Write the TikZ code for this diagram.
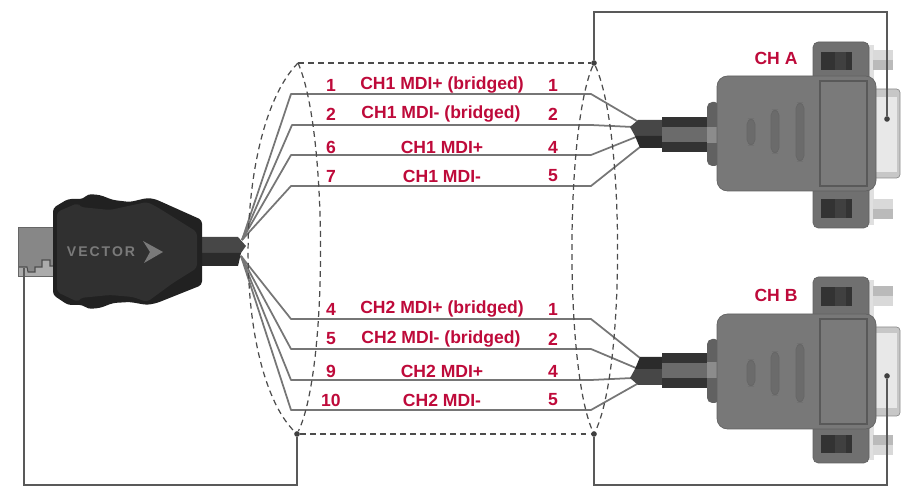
\documentclass[tikz,border=0pt]{standalone}
\usepackage{fontspec}
\setmainfont{Liberation Sans}
\usetikzlibrary{calc}

\definecolor{labelred}{HTML}{BE0A3A}
\definecolor{wiregray}{HTML}{767676}

\tikzset{
    wire/.style = {wiregray, line width = 1pt, line join = round},
    shield/.style = {black!70, line width = 0.7pt, dash pattern = on 3.3pt off 2.4pt},
    ground/.style = {black!65, line width = 1pt},
    dot/.style = {circle, fill = black!75, inner sep = 0pt, minimum size = 3.2pt},
    pin/.style = {labelred, font = \bfseries\fontsize{10}{12}\selectfont, inner sep = 0pt},
    dsub/.pic = {
        % screws and shell behind the housing
        \fill[black!12] (869,45) rectangle (874,225);
        \fill[black!15] (873,50) rectangle (893,60);
        \fill[black!27] (873,60) rectangle (893,70);
        \fill[black!15] (873,199) rectangle (893,209);
        \fill[black!27] (873,209) rectangle (893,219);
        \draw[black!45, fill = black!22, rounded corners = 2] (870,89) rectangle (900,178);
        \fill[black!9] (876,97) rectangle (897,172);
        % cable
        \fill[black!72] (630,127) -- (638,120) -- (662,120) -- (662,136) -- (635,136) -- cycle;
        \fill[black!83] (635,136) -- (662,136) -- (662,148) -- (640,148) -- cycle;
        \fill[black!80] (662,117) rectangle (710,152);
        \fill[black!58] (662,127) rectangle (710,142);
        \fill[black!62, rounded corners = 3] (707,102) rectangle (720,166);
        \fill[black!45] (707,127) rectangle (717,143);
        % flange with its two windows
        \draw[black!62, fill = black!56, rounded corners = 3] (813,42) rectangle (869,228);
        \fill[black!80] (821,52) rectangle (852,70);
        \fill[black!75] (835,52) rectangle (846,70);
        \fill[black!80] (821,199) rectangle (852,218);
        \fill[black!75] (835,199) rectangle (846,218);
        % housing
        \draw[black!62, fill = black!53, rounded corners = 6] (717,76) rectangle (876,191);
        \draw[black!65, fill = black!52, line width = 0.6pt] (820,81) rectangle (867,186);
        \draw[black!60, fill = black!58, rounded corners = 3] (747,119) rectangle (755,145);
        \draw[black!60, fill = black!58, rounded corners = 3] (771,110) rectangle (779,153);
        \draw[black!60, fill = black!58, rounded corners = 3] (796,103) rectangle (804,161);
    }
}

\begin{document}
\begin{tikzpicture}[x = 0.02cm, y = -0.02cm]
            \useasboundingbox (0,0) rectangle (914,496);

            % connection points
            \coordinate (vup) at (242,240);
            \coordinate (vlow) at (241,256);
            \coordinate (la1) at (291,94);
            \coordinate (la2) at (292,125);
            \coordinate (la3) at (291,155);
            \coordinate (la4) at (291,186);
            \coordinate (lb1) at (291,319);
            \coordinate (lb2) at (291,349);
            \coordinate (lb3) at (291,380);
            \coordinate (lb4) at (291,410);
            \coordinate (ra1) at (591,94);
            \coordinate (ra2) at (591,125);
            \coordinate (ra3) at (591,155);
            \coordinate (ra4) at (591,186);
            \coordinate (rb1) at (591,319);
            \coordinate (rb2) at (591,349);
            \coordinate (rb3) at (591,380);
            \coordinate (rb4) at (591,410);
            \coordinate (ea1) at (637,121);
            \coordinate (ea2) at (633,127);
            \coordinate (ea3) at (636,137);
            \coordinate (ea4) at (640,147);
            \coordinate (eb1) at (640,358);
            \coordinate (eb2) at (636,368);
            \coordinate (eb3) at (633,378);
            \coordinate (eb4) at (637,384);

            % wires
            \draw[wire] (vup) -- (la1) -- (ra1) -- (ea1);
            \draw[wire] (vup) -- (la2) -- (ra2) -- (ea2);
            \draw[wire] (vup) -- (la3) -- (ra3) -- (ea3);
            \draw[wire] (vup) -- (la4) -- (ra4) -- (ea4);
            \draw[wire] (vlow) -- (lb1) -- (rb1) -- (eb1);
            \draw[wire] (vlow) -- (lb2) -- (rb2) -- (eb2);
            \draw[wire] (vlow) -- (lb3) -- (rb3) -- (eb3);
            \draw[wire] (vlow) -- (lb4) -- (rb4) -- (eb4);

            % shield
            \coordinate (shtl) at (298,63);
            \node[dot] (shtr) at (594,63) {};
            \node[dot] (shbl) at (297,434) {};
            \node[dot] (shbr) at (594,434) {};
            \draw[shield] (shtl) -- (shtr);
            \draw[shield] (shbl) -- (shbr);
            \draw[shield] (shtl) .. controls (232,130) and (232,370) .. (shbl);
            \draw[shield] (shtl) .. controls (328,130) and (328,370) .. (shbl);
            \draw[shield] (shtr) .. controls (565,130) and (565,370) .. (shbr);
            \draw[shield] (shtr) .. controls (625,130) and (625,370) .. (shbr);

            % plug on the left
            \fill[black!47] (18,227) rectangle (53,276);
            \fill[black!33] (18,267) -- (27,267) -- (28,272) -- (35,272) -- (35,267) -- (42,267) -- (42,260) -- (50,260) -- (50,266) -- (53,266) -- (53,276) -- (18,276) -- cycle;
            \draw[black!70, line width = 0.6pt] (18,267) -- (27,267) -- (28,272) -- (35,272) -- (35,267) -- (42,267) -- (42,260) -- (50,260) -- (50,266) -- (53,266);
            \draw[black!60, line width = 0.4pt] (53,227) -- (18,227) -- (18,276) -- (53,276);
            \fill[black!72] (202,237) -- (238,237) -- (246,246) -- (241,253) -- (202,253) -- cycle;
            \fill[black!83] (202,253) -- (241,253) -- (238,266) -- (202,266) -- cycle;
            \fill[black!87, rounded corners = 2] (53,208) -- (68,199) -- (83,199) -- (88,194) -- (100,195) -- (113,200) -- (130,202) -- (147,198) -- (155,199) -- (202,220) -- (202,285) -- (157,303) -- (147,305) -- (130,302) -- (113,303) -- (100,308) -- (88,309) -- (83,305) -- (68,305) -- (53,295) -- cycle;
            \fill[black!81, rounded corners = 2] (57,212) -- (78,203) -- (80,207) -- (110,210) -- (133,205) -- (147,202) -- (157,207) -- (197,232) -- (197,268) -- (173,283) -- (147,302) -- (133,297) -- (110,295) -- (80,298) -- (78,302) -- (57,292) -- cycle;
            \node[text = black!52, font = \bfseries\fontsize{8}{10}\selectfont\addfontfeature{LetterSpace = 14}, inner sep = 0pt] (vname) at (101,252) {VECTOR};
            \fill[black!52] (143,241) -- (163,252) -- (144,263) -- (150,252) -- cycle;

            % the two sockets
            \pic at (0,0) {dsub};
            \pic[yscale = -1] at (0,505) {dsub};

            % ground lines
            \node[dot] (gnda) at (887,119) {};
            \node[dot] (gndb) at (887,376) {};
            \coordinate (gndv) at (24,268);
            \draw[ground] (shtr) -- (594,12) -- (887,12) -- (gnda);
            \draw[ground] (shbr) -- (594,485) -- (887,485) -- (gndb);
            \draw[ground] (shbl) -- (297,485) -- (24,485) -- (gndv);

            % labels
            \node[pin] (cha) at (776,58) {CH A};
            \node[pin] (chb) at (776,295) {CH B};

            \node[pin] (pa1) at (331,85) {1};
            \node[pin] (na1) at (442,85) {CH1 MDI+ (bridged)};
            \node[pin] (qa1) at (553,85) {1};
            \node[pin] (pa2) at (331,114) {2};
            \node[pin] (na2) at (441,114) {CH1 MDI- (bridged)};
            \node[pin] (qa2) at (553,114) {2};
            \node[pin] (pa3) at (331,147) {6};
            \node[pin] (na3) at (442,147) {CH1 MDI+};
            \node[pin] (qa3) at (553,147) {4};
            \node[pin] (pa4) at (331,176) {7};
            \node[pin] (na4) at (442,176) {CH1 MDI-};
            \node[pin] (qa4) at (553,176) {5};

            \node[pin] (pb1) at (331,309) {4};
            \node[pin] (nb1) at (442,309) {CH2 MDI+ (bridged)};
            \node[pin] (qb1) at (553,309) {1};
            \node[pin] (pb2) at (331,339) {5};
            \node[pin] (nb2) at (441,339) {CH2 MDI- (bridged)};
            \node[pin] (qb2) at (553,339) {2};
            \node[pin] (pb3) at (331,371) {9};
            \node[pin] (nb3) at (442,371) {CH2 MDI+};
            \node[pin] (qb3) at (553,371) {4};
            \node[pin] (pb4) at (331,400) {10};
            \node[pin] (nb4) at (442,400) {CH2 MDI-};
            \node[pin] (qb4) at (553,400) {5};
        \end{tikzpicture}
\end{document}
